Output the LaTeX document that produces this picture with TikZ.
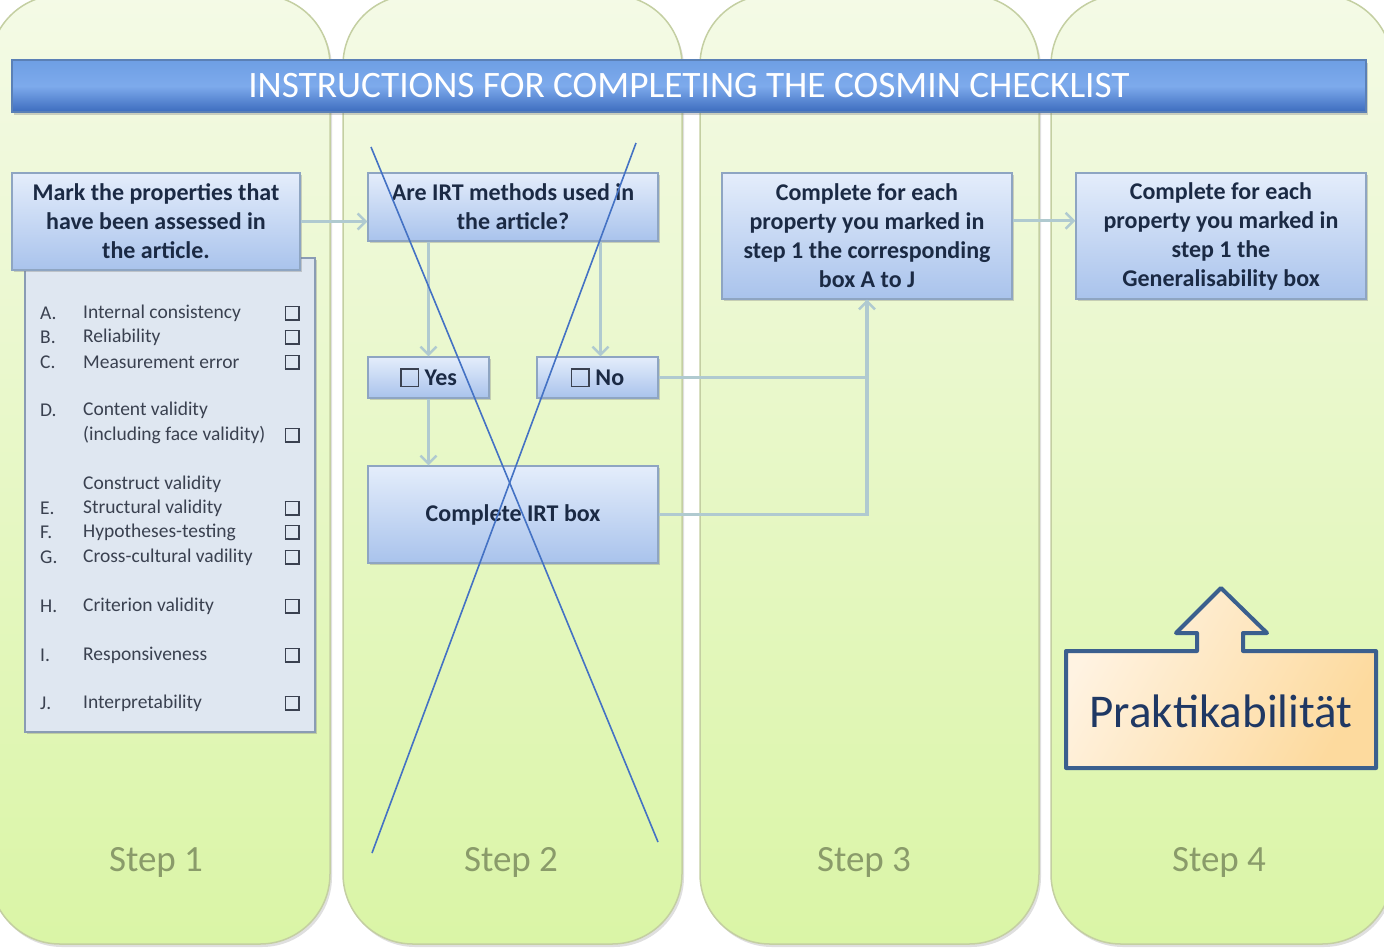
\documentclass[tikz,border=0pt]{standalone}
\usepackage{fontspec}
\setmainfont{Carlito}
\usetikzlibrary{arrows.meta,shadows,calc}
\definecolor{lanetop}{HTML}{F4FAE6}
\definecolor{lanebot}{HTML}{DAF5A6}
\definecolor{laneedge}{HTML}{C4CFA2}
\definecolor{bartop}{HTML}{6E9FE4}
\definecolor{barmid}{HTML}{7DAAEC}
\definecolor{barbot}{HTML}{3C6CBE}
\definecolor{baredge}{HTML}{5A80B6}
\definecolor{boxtop}{HTML}{E4EDFB}
\definecolor{boxbot}{HTML}{A9C3EC}
\definecolor{boxedge}{HTML}{8EA5C2}
\definecolor{listfill}{HTML}{DFE7F1}
\definecolor{listedge}{HTML}{8A9CB4}
\definecolor{txt}{HTML}{1B2A44}
\definecolor{listtxt}{HTML}{3A4150}
\definecolor{arrcol}{HTML}{B0CAD0}
\definecolor{crosscol}{HTML}{4472C4}
\definecolor{stepcol}{HTML}{8A9B6A}
\definecolor{praktop}{HTML}{FDDA9E}
\definecolor{prakbot}{HTML}{FFF3E2}
\definecolor{prakedge}{HTML}{3B5F8E}
\definecolor{praktxt}{HTML}{1F3864}
\newcommand\chkbox{{\color{listtxt}\setlength\fboxsep{0pt}\setlength\fboxrule{1.5pt}\fbox{\phantom{\rule{12pt}{12pt}}}}}
\newcommand\bigchkbox{{\color{listtxt}\setlength\fboxsep{0pt}\setlength\fboxrule{1.6pt}\fbox{\phantom{\rule{16pt}{16pt}}}}}
\begin{document}
\begin{tikzpicture}[x=1pt,y=-1pt,
  lane/.style={draw=laneedge, line width=1.5pt, top color=lanetop, bottom color=lanebot, rounded corners=70pt,
     drop shadow={shadow xshift=2pt, shadow yshift=-3pt, opacity=0.25, fill=gray}},
  bluebox/.style={draw=boxedge, line width=1.2pt, top color=boxtop, bottom color=boxbot, inner sep=0pt,
     text=txt, font=\fontsize{24}{29}\selectfont\bfseries, align=center,
     drop shadow={shadow xshift=2pt, shadow yshift=-2pt, opacity=0.35, fill=gray}},
  arr/.style={draw=arrcol, line width=3.5pt, -{Straight Barb[length=8pt, width=16pt, line width=2.5pt]}},
  lin/.style={draw=arrcol, line width=3.5pt},
  cross/.style={draw=crosscol, line width=1.6pt},
  steplbl/.style={text=stepcol, font=\fontsize{37}{42}\selectfont},
  litem/.style={text=listtxt, font=\fontsize{19.5}{22}\selectfont, anchor=west, inner sep=0pt},
]
\useasboundingbox (0,0) rectangle (1384,948);
% lanes
\path[lane] (-10,-5) rectangle (330,944);
\path[lane] (343,-5) rectangle (682,944);
\path[lane] (700,-5) rectangle (1039,944);
\path[lane] (1051,-5) rectangle (1392,944);
% title bar
\node[draw=baredge, line width=1.2pt, minimum width=1354pt, minimum height=52pt, inner sep=0pt,
  top color=bartop, bottom color=barbot, middle color=barmid, text=white,
  font=\fontsize{37.3}{42}\selectfont,
  drop shadow={shadow xshift=2pt, shadow yshift=-3pt, opacity=0.35, fill=gray}]
  (title) at (689,86) {INSTRUCTIONS FOR COMPLETING THE COSMIN CHECKLIST};
% list box
\node[draw=listedge, line width=1.4pt, fill=listfill, minimum width=290pt, minimum height=474pt, inner sep=0pt,
  drop shadow={shadow xshift=2pt, shadow yshift=-2pt, opacity=0.35, fill=gray}] (list) at (170,495) {};
% step 1 box
\node[bluebox, minimum width=288pt, minimum height=97pt] (b1) at (156,221.5)
  {Mark the properties that\\have been assessed in\\the article.};
% list items
\foreach \n/\y/\l/\t/\c in {a/313/A./Internal consistency/1, b/337/B./Reliability/1, c/362/C./Measurement error/1,
   d/410/D./Content validity/0, d2/435//(including face validity)/1, cv/484//Construct validity/0,
   e/508/E./Structural validity/1, f/532/F./Hypotheses-testing/1, g/557/G./Cross-cultural vadility/1,
   h/606/H./Criterion validity/1, i/655/I./Responsiveness/1, j/703/J./Interpretability/1}{
  \node[litem] (l\n) at (40,\y) {\l};
  \node[litem] (t\n) at (83,\y) {\t};
  \ifnum\c=1 \node[inner sep=0pt] (c\n) at (292,\y) {\chkbox};\fi
}
% step 2
\node[bluebox, minimum width=290pt, minimum height=68pt] (b2) at (513,207) {Are IRT methods used in\\the article?};
\node[bluebox, minimum width=121pt, minimum height=41pt] (yes) at (428.5,377.5) {\bigchkbox\ Yes};
\node[bluebox, minimum width=121pt, minimum height=41pt] (no) at (597.5,377.5) {\bigchkbox\ No};
\node[bluebox, minimum width=290pt, minimum height=97pt] (irt) at (513,514.5) {Complete IRT box};
% step 3 and 4
\node[bluebox, minimum width=290pt, minimum height=126pt] (b3) at (867,236)
  {Complete for each\\property you marked in\\step 1 the corresponding\\box A to J};
\node[bluebox, minimum width=290pt, minimum height=126pt] (b4) at (1221,236)
  {Complete for each\\property you marked in\\step 1 the\\Generalisability box};
% connectors
\draw[arr] (b1.east) -- (b1.east -| b2.west);
\draw[arr] (b2.south -| yes.north) -- (yes.north);
\draw[arr] ([xshift=3pt]b2.south -| no.north) -- ([xshift=3pt]no.north);
\draw[arr] (yes.south) -- (yes.south |- irt.north);
\draw[lin] (irt.east) -| (b3.south);
\draw[arr] (no.east) -| (b3.south);
\coordinate (b3a) at ($(b3.north east)!0.38!(b3.south east)$);
\draw[arr] (b3a) -- (b3a -| b4.west);
% step labels
\node[steplbl] (s1) at (156,862) {Step 1};
\node[steplbl] (s2) at (511,862) {Step 2};
\node[steplbl] (s3) at (864,862) {Step 3};
\node[steplbl] (s4) at (1219,862) {Step 4};
% cross
\coordinate (x1a) at (371,147); \coordinate (x1b) at (658,842);
\coordinate (x2a) at (636,143); \coordinate (x2b) at (372,853);
\draw[cross] (x1a) -- (x1b);
\draw[cross] (x2a) -- (x2b);
% callout
\path[draw=prakedge, line width=4pt, line join=round, left color=prakbot, right color=praktop, shading angle=60]
  (1066,651) -- (1197,651) -- (1197,633) -- (1176,633) -- (1221,588) -- (1267,633) -- (1243,633) -- (1243,651)
  -- (1376,651) -- (1376,768) -- (1066,768) -- cycle;
\node[text=praktxt, font=\fontsize{47}{54}\selectfont] (prak) at (1221,711) {Praktikabilität};
\end{tikzpicture}
\end{document}
